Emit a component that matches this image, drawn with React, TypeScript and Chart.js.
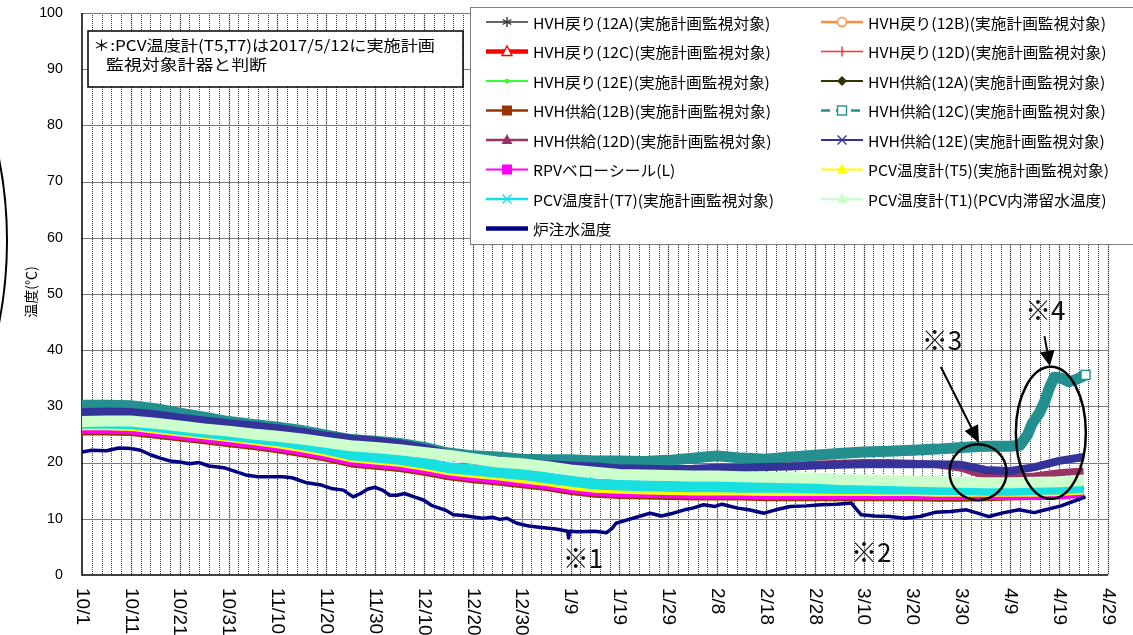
import React, { useEffect, useRef } from 'react';
import { Chart, registerables } from 'chart.js';

Chart.register(...registerables);

const W = 1133;
const H = 635;

// ---------- axis data ----------
const xTickDays = [0, 10, 20, 30, 40, 50, 60, 70, 80, 90, 100, 110, 120, 130, 140, 150, 160, 170, 180, 190, 200, 210];
const xTickLabels = ['10/1', '10/11', '10/21', '10/31', '11/10', '11/20', '11/30', '12/10', '12/20', '12/30', '1/9', '1/19', '1/29', '2/8', '2/18', '2/28', '3/10', '3/20', '3/30', '4/9', '4/19', '4/29'];
const yTickValues = [0, 10, 20, 30, 40, 50, 60, 70, 80, 90, 100];

// ---------- series data (x = days since 10/1) ----------
const bandDays = [0, 5, 10, 15, 20, 25, 30, 35, 40, 45, 50, 55, 60, 65, 70, 75, 80, 85, 90, 95, 100, 105, 110, 115, 120, 125, 130, 135, 140, 145, 150, 155, 160, 165, 170, 175, 180, 185, 190, 195, 200, 205];
const days10 = [0, 10, 20, 30, 40, 50, 60, 70, 80, 90, 100, 110, 120, 130, 140, 150, 160, 170, 180, 190, 200, 205];

const ret12A = [26.8, 26.7, 25.7, 24.7, 23.7, 22.2, 20.8, 19.7, 18.5, 17.7, 16.5, 15.8, 15.6, 15.5, 15.4, 15.3, 15.2, 15.1, 15.0, 14.9, 15.1, 15.4];
const ret12B = [26.6, 26.5, 25.5, 24.5, 23.5, 22.0, 20.6, 19.5, 18.3, 17.5, 16.3, 15.6, 15.4, 15.3, 15.2, 15.1, 15.0, 14.9, 14.8, 14.8, 15.0, 15.3];
const ret12C = [27.1, 27.0, 26.0, 25.0, 24.0, 22.5, 21.1, 20.0, 18.8, 18.0, 16.8, 16.1, 15.9, 15.8, 15.7, 15.6, 15.5, 15.4, 15.3, 15.2, 15.4, 15.7];
const ret12D = [26.9, 26.8, 25.8, 24.8, 23.8, 22.3, 20.9, 19.8, 18.6, 17.8, 16.6, 15.9, 15.7, 15.6, 15.5, 15.4, 15.3, 15.2, 15.1, 15.0, 15.2, 15.5];
const ret12E = [27.2, 27.1, 26.1, 25.1, 24.1, 22.6, 21.2, 20.1, 18.9, 18.1, 16.9, 16.2, 16.0, 15.9, 15.8, 15.7, 15.6, 15.5, 15.4, 15.3, 15.5, 15.8];
const sup12A = [26.7, 26.6, 25.6, 24.6, 23.6, 22.1, 20.7, 19.6, 18.4, 17.6, 16.4, 15.7, 15.5, 15.4, 15.3, 15.2, 15.1, 15.0, 14.9, 14.9, 15.0, 15.3];

const sup12B = [25.2, 25.2, 25.1, 24.6, 24.1, 23.6, 23.1, 22.6, 22.0, 21.3, 20.5, 19.5, 19.1, 18.7, 18.0, 17.2, 16.7, 16.3, 15.8, 15.3, 14.6, 14.1, 13.9, 13.8, 13.7, 13.6, 13.6, 13.6, 13.5, 13.5, 13.5, 13.5, 13.5, 13.5, 13.5, 13.4, 13.4, 13.5, 13.6, 13.7, 13.9, 14.3];

const sup12CDays = [0, 5, 10, 15, 20, 25, 30, 35, 40, 45, 50, 55, 60, 65, 70, 75, 80, 85, 90, 95, 100, 105, 110, 115, 120, 125, 130, 135, 140, 145, 150, 155, 160, 165, 170, 175, 180, 185, 190, 192, 193.5, 194.5, 196, 197, 198, 199, 200.5, 202, 203.5, 205.4];
const sup12C = [30.2, 30.2, 30.1, 29.6, 28.8, 28.1, 27.3, 26.8, 26.3, 25.7, 24.9, 24.1, 23.8, 23.4, 22.7, 21.7, 21.2, 21.0, 20.6, 20.5, 20.5, 20.3, 20.3, 20.2, 20.4, 20.8, 21.2, 20.8, 20.6, 21.0, 21.3, 21.6, 21.9, 22.0, 22.2, 22.4, 22.7, 22.9, 22.9, 23.1, 24.9, 27.0, 28.9, 30.8, 33.3, 35.2, 35.0, 34.4, 34.8, 35.6];

const sup12D = [28.4, 28.5, 28.4, 28.0, 27.4, 26.9, 26.4, 26.0, 25.5, 24.9, 24.2, 23.7, 23.3, 22.8, 22.0, 21.0, 20.3, 19.8, 19.4, 19.1, 18.9, 18.8, 18.6, 18.6, 18.6, 18.7, 18.9, 19.0, 19.2, 19.4, 19.7, 19.9, 20.0, 20.0, 19.9, 19.6, 19.0, 17.6, 17.4, 17.6, 18.2, 18.5];
const sup12E = [29.0, 29.1, 29.0, 28.6, 28.0, 27.5, 27.0, 26.6, 26.1, 25.5, 24.8, 24.3, 23.9, 23.4, 22.6, 21.6, 20.9, 20.4, 20.0, 19.7, 19.5, 19.3, 19.0, 18.9, 18.8, 18.9, 19.1, 19.1, 19.2, 19.3, 19.5, 19.6, 19.7, 19.7, 19.7, 19.7, 19.6, 18.7, 18.5, 19.2, 20.3, 21.0];
const rpvL = [25.6, 25.6, 25.5, 25.0, 24.5, 24.0, 23.5, 23.0, 22.4, 21.7, 20.9, 19.9, 19.5, 19.1, 18.4, 17.6, 17.1, 16.7, 16.2, 15.7, 15.0, 14.5, 14.3, 14.2, 14.1, 14.0, 14.0, 14.0, 13.9, 13.9, 13.9, 13.9, 13.9, 13.9, 13.9, 13.8, 13.8, 13.8, 13.8, 13.8, 13.9, 14.2];
const pcvT5 = [26.1, 26.1, 26.0, 25.5, 25.0, 24.5, 24.0, 23.5, 22.9, 22.2, 21.4, 20.4, 20.0, 19.6, 18.9, 18.1, 17.6, 17.2, 16.7, 16.2, 15.5, 15.0, 14.8, 14.7, 14.6, 14.5, 14.5, 14.5, 14.4, 14.4, 14.4, 14.4, 14.4, 14.4, 14.4, 14.3, 14.3, 14.3, 14.3, 14.3, 14.4, 14.7];
const pcvT7 = [27.0, 27.0, 26.9, 26.4, 25.9, 25.4, 24.9, 24.4, 23.9, 23.2, 22.4, 21.4, 21.0, 20.6, 19.9, 19.1, 18.7, 18.3, 17.9, 17.3, 16.7, 16.2, 16.0, 15.9, 15.8, 15.7, 15.7, 15.6, 15.6, 15.6, 15.5, 15.4, 15.4, 15.3, 15.3, 15.2, 15.2, 15.1, 15.1, 15.2, 15.3, 15.6];
const pcvT1 = [27.3, 27.4, 27.4, 27.0, 26.5, 26.0, 25.6, 25.1, 24.7, 24.2, 23.6, 23.0, 22.7, 22.3, 21.8, 21.3, 20.7, 20.1, 19.8, 19.3, 18.7, 18.3, 17.9, 17.8, 17.7, 17.6, 17.6, 17.5, 17.4, 17.3, 17.2, 17.0, 16.9, 16.8, 16.7, 16.6, 16.5, 16.4, 16.4, 16.5, 16.6, 16.8];

const injDays = [0, 2, 5, 7.5, 10, 12, 14, 16, 18, 20, 22, 24, 26, 29, 31.5, 33.5, 36, 41, 43, 46, 49, 51, 53.5, 55.5, 57, 58.5, 60, 61.5, 63, 64.5, 66, 68, 70, 71.5, 74.5, 76, 78, 82, 84, 85.5, 87, 89, 91.5, 93.5, 97, 99.4, 99.6, 99.8, 101.5, 105, 107.3, 108.5, 109.3, 111.6, 114, 116.3, 118.6, 121, 123.3, 125, 127.2, 129.6, 131, 134.2, 136.5, 139.6, 142, 145, 148.2, 151.3, 154.4, 157.5, 158.3, 159.5, 162.2, 165.3, 168.4, 171.5, 174.6, 177.8, 181, 183.3, 185.6, 188.7, 191.8, 194.9, 197.2, 200.4, 203.5, 205.4];
const injTemp = [21.9, 22.2, 22.1, 22.6, 22.5, 22.2, 21.4, 20.8, 20.3, 20.1, 19.8, 20.0, 19.4, 19.1, 18.4, 17.8, 17.5, 17.5, 17.3, 16.4, 16.0, 15.4, 15.1, 13.9, 14.5, 15.3, 15.6, 15.1, 14.2, 14.2, 14.5, 13.9, 13.3, 12.4, 11.5, 10.7, 10.6, 10.1, 10.3, 9.9, 10.1, 9.2, 8.7, 8.5, 8.2, 7.8, 6.6, 7.8, 7.7, 7.8, 7.5, 8.3, 9.2, 9.8, 10.4, 11.0, 10.5, 11.0, 11.6, 11.9, 12.5, 12.2, 12.6, 11.9, 11.6, 11.0, 11.6, 12.2, 12.3, 12.5, 12.6, 12.8, 11.9, 10.7, 10.5, 10.4, 10.1, 10.4, 11.15, 11.3, 11.6, 11.0, 10.4, 11.1, 11.6, 11.1, 11.6, 12.3, 13.3, 13.9];

// ---------- annotations (in data coordinates) ----------
const noteTexts = ['※1', '※2', '※3', '※4'];
const noteDays = [98.4, 157.4, 171.9, 193.0];
const noteVals = [1.2, 2.3, 40.0, 45.4];

type Marker = 'asterisk' | 'circleHollow' | 'triHollow' | 'plus' | 'smallSquare' | 'diamond' | 'square' | 'squareHollow' | 'triangle' | 'cross' | 'none';
interface SeriesDef {
  label: string;
  color: string;
  days: number[];
  values: number[];
  width: number;
  legendWidth: number;
  marker: Marker;
  dashed?: boolean;
}

const series: SeriesDef[] = [
  { label: 'HVH戻り(12A)(実施計画監視対象)', color: '#333333', days: days10, values: ret12A, width: 2, legendWidth: 1.5, marker: 'asterisk' },
  { label: 'HVH戻り(12B)(実施計画監視対象)', color: '#FF8C40', days: days10, values: ret12B, width: 2, legendWidth: 2.5, marker: 'circleHollow' },
  { label: 'HVH戻り(12C)(実施計画監視対象)', color: '#FF0000', days: days10, values: ret12C, width: 2, legendWidth: 4.5, marker: 'triHollow' },
  { label: 'HVH戻り(12D)(実施計画監視対象)', color: '#FF3030', days: days10, values: ret12D, width: 2, legendWidth: 1.5, marker: 'plus' },
  { label: 'HVH戻り(12E)(実施計画監視対象)', color: '#33FF33', days: days10, values: ret12E, width: 2, legendWidth: 2, marker: 'smallSquare' },
  { label: 'HVH供給(12A)(実施計画監視対象)', color: '#333300', days: days10, values: sup12A, width: 2, legendWidth: 2, marker: 'diamond' },
  { label: 'HVH供給(12B)(実施計画監視対象)', color: '#993300', days: bandDays, values: sup12B, width: 4, legendWidth: 2.5, marker: 'square' },
  { label: 'HVH供給(12C)(実施計画監視対象)', color: '#23908f', days: sup12CDays, values: sup12C, width: 11, legendWidth: 2.5, marker: 'squareHollow', dashed: true },
  { label: 'HVH供給(12D)(実施計画監視対象)', color: '#993366', days: bandDays, values: sup12D, width: 7, legendWidth: 2.5, marker: 'triangle' },
  { label: 'HVH供給(12E)(実施計画監視対象)', color: '#333399', days: bandDays, values: sup12E, width: 8, legendWidth: 2, marker: 'cross' },
  { label: 'RPVベローシール(L)', color: '#FF00FF', days: bandDays, values: rpvL, width: 5, legendWidth: 2, marker: 'square' },
  { label: 'PCV温度計(T5)(実施計画監視対象)', color: '#FFFF00', days: bandDays, values: pcvT5, width: 4, legendWidth: 2, marker: 'triangle' },
  { label: 'PCV温度計(T7)(実施計画監視対象)', color: '#18E0E0', days: bandDays, values: pcvT7, width: 11, legendWidth: 2.5, marker: 'cross' },
  { label: 'PCV温度計(T1)(PCV内滞留水温度)', color: '#CCFFCC', days: bandDays, values: pcvT1, width: 11, legendWidth: 2.5, marker: 'triangle' },
  { label: '炉注水温度', color: '#000080', days: injDays, values: injTemp, width: 3.5, legendWidth: 4.5, marker: 'none' },
];

const FONT_JP = '"Noto Sans CJK JP", "Noto Sans", sans-serif';
const FONT_NUM = '"Liberation Sans", Arial, sans-serif';

function drawMarker(ctx: CanvasRenderingContext2D, type: Marker, cx: number, cy: number, color: string) {
  const s = 5;
  ctx.save();
  ctx.setLineDash([]);
  ctx.strokeStyle = color;
  ctx.fillStyle = color;
  ctx.lineWidth = 1.4;
  switch (type) {
    case 'asterisk':
      ctx.beginPath();
      ctx.moveTo(cx, cy - s); ctx.lineTo(cx, cy + s);
      ctx.moveTo(cx - s * 0.87, cy - s * 0.5); ctx.lineTo(cx + s * 0.87, cy + s * 0.5);
      ctx.moveTo(cx - s * 0.87, cy + s * 0.5); ctx.lineTo(cx + s * 0.87, cy - s * 0.5);
      ctx.stroke();
      break;
    case 'circleHollow':
      ctx.beginPath(); ctx.arc(cx, cy, 4.5, 0, Math.PI * 2);
      ctx.fillStyle = '#fff'; ctx.fill(); ctx.stroke();
      break;
    case 'triHollow':
      ctx.beginPath(); ctx.moveTo(cx, cy - 5.5); ctx.lineTo(cx + 5, cy + 4); ctx.lineTo(cx - 5, cy + 4); ctx.closePath();
      ctx.fillStyle = '#fff'; ctx.fill(); ctx.stroke();
      break;
    case 'plus':
      ctx.beginPath(); ctx.moveTo(cx, cy - s); ctx.lineTo(cx, cy + s); ctx.stroke();
      break;
    case 'smallSquare':
      ctx.fillRect(cx - 2, cy - 2, 4, 4);
      break;
    case 'diamond':
      ctx.beginPath(); ctx.moveTo(cx, cy - 5); ctx.lineTo(cx + 5, cy); ctx.lineTo(cx, cy + 5); ctx.lineTo(cx - 5, cy); ctx.closePath(); ctx.fill();
      break;
    case 'square':
      ctx.fillRect(cx - 5, cy - 5, 10, 10);
      break;
    case 'squareHollow':
      ctx.fillStyle = '#fff'; ctx.fillRect(cx - 4.5, cy - 4.5, 9, 9); ctx.strokeRect(cx - 4.5, cy - 4.5, 9, 9);
      break;
    case 'triangle':
      ctx.beginPath(); ctx.moveTo(cx, cy - 6); ctx.lineTo(cx + 5.5, cy + 4); ctx.lineTo(cx - 5.5, cy + 4); ctx.closePath(); ctx.fill();
      break;
    case 'cross':
      ctx.beginPath(); ctx.moveTo(cx - 4.5, cy - 4.5); ctx.lineTo(cx + 4.5, cy + 4.5); ctx.moveTo(cx - 4.5, cy + 4.5); ctx.lineTo(cx + 4.5, cy - 4.5); ctx.stroke();
      break;
    default:
      break;
  }
  ctx.restore();
}

function fitText(ctx: CanvasRenderingContext2D, text: string, x: number, y: number, sx: number) {
  ctx.save();
  ctx.translate(x, y);
  ctx.scale(sx, 1);
  ctx.fillText(text, 0, 0);
  ctx.restore();
}

function drawArrow(ctx: CanvasRenderingContext2D, x1: number, y1: number, x2: number, y2: number, head: number, half: number) {
  const ang = Math.atan2(y2 - y1, x2 - x1);
  const bx = x2 - head * Math.cos(ang);
  const by = y2 - head * Math.sin(ang);
  ctx.beginPath(); ctx.moveTo(x1, y1); ctx.lineTo(bx, by); ctx.stroke();
  ctx.beginPath();
  ctx.moveTo(x2, y2);
  ctx.lineTo(bx + half * Math.sin(ang), by - half * Math.cos(ang));
  ctx.lineTo(bx - half * Math.sin(ang), by + half * Math.cos(ang));
  ctx.closePath(); ctx.fill();
}

const decorPlugin = {
  id: 'decor',
  beforeDatasetsDraw(chart: any) {
    const { ctx, chartArea: a, scales } = chart;
    const xs = scales.x, ys = scales.y;
    ctx.save();
    // vertical grid: dotted every 2 days, grey at label ticks
    for (let d = 2; d <= 210; d += 2) {
      const px = Math.round(xs.getPixelForValue(d)) + 0.5;
      if (d % 10 === 0) {
        ctx.beginPath(); ctx.strokeStyle = '#c4c4c4'; ctx.setLineDash([]); ctx.lineWidth = 1.5;
        ctx.moveTo(px, a.top); ctx.lineTo(px, a.bottom); ctx.stroke();
      }
      ctx.beginPath(); ctx.strokeStyle = '#3c3c3c'; ctx.setLineDash([1, 1]); ctx.lineWidth = 1;
      ctx.moveTo(px, a.top); ctx.lineTo(px, a.bottom); ctx.stroke();
    }
    ctx.setLineDash([]);
    // horizontal grid
    ctx.strokeStyle = '#7a7a7a';
    ctx.lineWidth = 1;
    yTickValues.forEach((v) => {
      if (v === 0) return;
      const py = Math.round(ys.getPixelForValue(v)) + 0.5;
      ctx.beginPath(); ctx.moveTo(a.left, py); ctx.lineTo(a.right, py); ctx.stroke();
    });
    // axes
    ctx.strokeStyle = '#000';
    ctx.lineWidth = 1.5;
    ctx.beginPath();
    ctx.moveTo(a.left, a.top); ctx.lineTo(a.left, a.bottom); ctx.lineTo(a.right, a.bottom);
    ctx.stroke();
    ctx.restore();
  },
  afterDatasetsDraw(chart: any) {
    const { ctx, scales } = chart;
    const s = series[7];
    const i = s.days.length - 1;
    const px = scales.x.getPixelForValue(s.days[i]);
    const py = scales.y.getPixelForValue(s.values[i]);
    drawMarker(ctx, 'squareHollow', px, py, s.color);
  },
  afterDraw(chart: any) {
    const { ctx, chartArea: a, scales } = chart;
    const xs = scales.x, ys = scales.y;
    ctx.save();
    ctx.fillStyle = '#000';

    // y tick labels
    ctx.font = `14px ${FONT_NUM}`;
    ctx.textAlign = 'right';
    ctx.textBaseline = 'middle';
    yTickValues.forEach((v) => {
      fitText(ctx, String(v), 63, ys.getPixelForValue(v), 1.02);
    });

    // x tick labels rotated clockwise
    ctx.font = `19px ${FONT_NUM}`;
    ctx.textAlign = 'left';
    ctx.textBaseline = 'middle';
    xTickDays.forEach((d, i) => {
      ctx.save();
      ctx.translate(xs.getPixelForValue(d), a.bottom + 13);
      ctx.rotate(Math.PI / 2);
      ctx.fillText(xTickLabels[i], 0, 0);
      ctx.restore();
    });

    // y axis title
    ctx.font = `14px ${FONT_JP}`;
    ctx.textAlign = 'center';
    ctx.textBaseline = 'middle';
    ctx.save();
    ctx.translate(31, (a.top + a.bottom) / 2 - 2);
    ctx.rotate(-Math.PI / 2);
    ctx.fillText('温度(℃)', 0, 0);
    ctx.restore();

    // note box
    ctx.fillStyle = '#fff';
    ctx.fillRect(88, 31, 375, 56);
    ctx.strokeStyle = '#000';
    ctx.lineWidth = 1.5;
    ctx.strokeRect(88, 31, 375, 56);
    ctx.fillStyle = '#000';
    ctx.font = `15px ${FONT_JP}`;
    ctx.textAlign = 'left';
    ctx.textBaseline = 'middle';
    const l1 = '＊:PCV温度計(T5,T7)は2017/5/12に実施計画';
    const l2 = '監視対象計器と判断';
    fitText(ctx, l1, 93, 45, 342 / ctx.measureText(l1).width);
    fitText(ctx, l2, 106, 64, 161 / ctx.measureText(l2).width);

    // legend
    const lgLeft = 470, lgTop = 7, lgBottom = 244;
    ctx.fillStyle = '#fff';
    ctx.fillRect(lgLeft, lgTop, W - lgLeft + 10, lgBottom - lgTop);
    ctx.strokeStyle = '#808080';
    ctx.lineWidth = 1;
    ctx.strokeRect(lgLeft + 0.5, lgTop + 0.5, W - lgLeft + 10, lgBottom - lgTop);
    ctx.font = `15px ${FONT_JP}`;
    const legScale = 238 / ctx.measureText(series[1].label).width;
    const cols = [486, 821];
    series.forEach((s, i) => {
      const cx0 = cols[i % 2];
      const cy = 22 + Math.floor(i / 2) * 29.5;
      ctx.save();
      ctx.strokeStyle = s.color;
      ctx.lineWidth = s.legendWidth;
      ctx.setLineDash(s.dashed ? [9, 6] : []);
      ctx.beginPath(); ctx.moveTo(cx0, cy); ctx.lineTo(cx0 + 42, cy); ctx.stroke();
      ctx.restore();
      drawMarker(ctx, s.marker, cx0 + 21, cy, s.color);
      ctx.fillStyle = '#000';
      ctx.textAlign = 'left';
      ctx.textBaseline = 'middle';
      fitText(ctx, s.label, cx0 + 47, cy + 1, legScale);
    });

    // notes ※1..※4
    ctx.fillStyle = '#111';
    ctx.font = `26px ${FONT_JP}`;
    ctx.textAlign = 'left';
    ctx.textBaseline = 'alphabetic';
    noteTexts.forEach((t, i) => {
      ctx.fillText(t, xs.getPixelForValue(noteDays[i]), ys.getPixelForValue(noteVals[i]));
    });

    // circles
    ctx.strokeStyle = '#000';
    ctx.fillStyle = '#000';
    ctx.lineWidth = 2.5;
    ctx.beginPath();
    ctx.ellipse(xs.getPixelForValue(183.4), ys.getPixelForValue(18.3), 28.5, 28, 0, 0, Math.PI * 2);
    ctx.stroke();
    ctx.beginPath();
    ctx.ellipse(xs.getPixelForValue(198.3), ys.getPixelForValue(25.3), 35, 66, 0, 0, Math.PI * 2);
    ctx.stroke();

    // arrows
    ctx.lineWidth = 2;
    drawArrow(ctx, xs.getPixelForValue(175.8), ys.getPixelForValue(37.0), xs.getPixelForValue(183.6), ys.getPixelForValue(23.5), 17, 7.5);
    drawArrow(ctx, xs.getPixelForValue(197.0), ys.getPixelForValue(42.5), xs.getPixelForValue(198.1), ys.getPixelForValue(37.2), 15, 7.5);

    // left arc
    ctx.lineWidth = 2;
    ctx.beginPath();
    ctx.ellipse(-150, 241, 157, 261, 0, -Math.PI / 2, Math.PI / 2);
    ctx.stroke();

    ctx.restore();
  },
};

export default function App() {
  const ref = useRef<HTMLCanvasElement>(null);
  useEffect(() => {
    const canvas = ref.current;
    if (!canvas) return;
    const chart = new Chart(canvas, {
      type: 'line',
      data: {
        datasets: series.map((s, i) => ({
          label: s.label,
          data: s.days.map((d, j) => ({ x: d, y: s.values[j] })),
          borderColor: s.color,
          backgroundColor: s.color,
          borderWidth: s.width,
          pointRadius: 0,
          pointHoverRadius: 0,
          fill: false,
          tension: 0,
          order: series.length - i,
          borderJoinStyle: 'round',
          borderCapStyle: 'butt',
        })),
      },
      options: {
        responsive: false,
        animation: false,
        events: [],
        layout: { padding: { left: 82, top: 13, right: 25, bottom: 60 } },
        plugins: { legend: { display: false }, tooltip: { enabled: false } },
        scales: {
          x: { type: 'linear', min: 0, max: 210, display: false },
          y: { type: 'linear', min: 0, max: 100, display: false },
        },
      },
      plugins: [decorPlugin],
    } as any);
    return () => chart.destroy();
  }, []);
  return (
    <div style={{ position: 'absolute', left: 0, top: 0, width: W, height: H, background: '#fff' }}>
      <canvas ref={ref} width={W} height={H} style={{ width: W, height: H, display: 'block' }} />
    </div>
  );
}
